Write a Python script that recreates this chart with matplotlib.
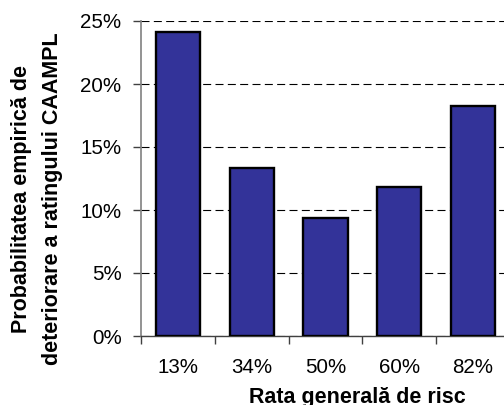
import matplotlib
matplotlib.use("Agg")
import matplotlib.pyplot as plt
from matplotlib.ticker import FuncFormatter

plt.rcParams['font.family'] = ['Liberation Sans', 'DejaVu Sans']

categories = ["13%", "34%", "50%", "60%", "82%"]
values = [24.15, 13.36, 9.34, 11.85, 18.23]
y_ticks = [0, 5, 10, 15, 20, 25]

fig = plt.figure(figsize=(5.04, 4.05), dpi=100)
W, H = 504, 405
left, right, top, bottom = 141, 510, 21, 336
ax = fig.add_axes([left / W, 1 - bottom / H, (right - left) / W, (bottom - top) / H])

x = range(len(categories))
ax.bar(x, values, width=0.6, color="#333399", edgecolor="black", linewidth=1.7, zorder=3)

ax.set_xlim(-0.5, len(categories) - 0.5)
ax.set_ylim(0, 25)
ax.set_yticks(y_ticks)
ax.yaxis.set_major_formatter(FuncFormatter(lambda v, p: f"{v:.0f}%"))
ax.set_xticks([i - 0.5 for i in range(len(categories) + 1)], minor=False)
ax.set_xticklabels([""] * (len(categories) + 1))
ax.set_xticks(list(x), minor=True)
ax.set_xticklabels(categories, minor=True)
ax.tick_params(axis="x", which="minor", length=0, pad=15.5, labelsize=14.8)
ax.tick_params(axis="x", which="major", length=6, width=1, color="#404040", direction="out")
ax.tick_params(axis="y", length=6, width=1, color="#404040", direction="out", labelsize=14.8, pad=8)

ax.grid(axis="y", color="black", linestyle=(0, (7.2, 3.9)), linewidth=0.8, zorder=0)
ax.set_axisbelow(True)
for s in ["top", "right"]:
    ax.spines[s].set_visible(False)
ax.spines["left"].set_color("#808080")
ax.spines["left"].set_linewidth(1.2)
ax.spines["bottom"].set_color("#404040")
ax.spines["bottom"].set_linewidth(1.0)

ax.set_xlabel("Rata generală de risc", fontsize=15.5, fontweight="bold")
ax.xaxis.set_label_coords(0.587, -0.163)
ax.set_ylabel("Probabilitatea empirică de\ndeteriorare a ratingului CAAMPL",
              fontsize=15.5, fontweight="bold", linespacing=1.65)
ax.yaxis.set_label_coords(-0.211, 0.435)

fig.savefig("out.png", dpi=100)
